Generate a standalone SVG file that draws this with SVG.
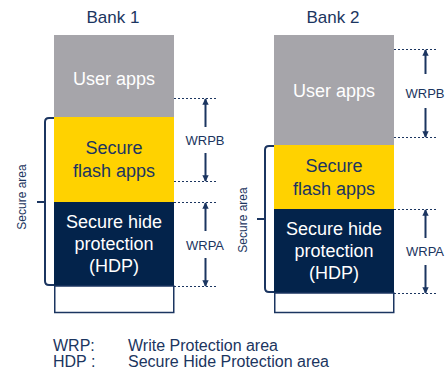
<svg xmlns="http://www.w3.org/2000/svg" width="447" height="372" viewBox="0 0 447 372">
  <defs>
    <marker id="head" viewBox="0 0 10 10" refX="9" refY="5" markerWidth="3.2" markerHeight="3.2" orient="auto-start-reverse" markerUnits="strokeWidth">
      <path d="M0,0 L10,5 L0,10 z" fill="#1b3560"/>
    </marker>
    <style>
      text { font-family: "Liberation Sans", Arial, sans-serif; }
      .title { font-size: 17px; fill: #1b3560; text-anchor: middle; }
      .blk { font-size: 18px; text-anchor: middle; }
      .light { fill: #ffffff; }
      .dark { fill: #1b3560; }
      .user { fill: #a6a5aa; }
      .flash { fill: #ffd200; }
      .hdp { fill: #03234b; }
      .free { fill: #ffffff; stroke: #1b3560; stroke-width: 1.5; }
      .dash { stroke: #1b3560; stroke-width: 1; stroke-dasharray: 2 2; fill: none; }
      .arrow { stroke: #1b3560; stroke-width: 2; fill: none; marker-end: url(#head); }
      .lbl { font-size: 13px; fill: #1b3560; text-anchor: middle; }
      .brace { stroke: #1b3560; stroke-width: 2; fill: none; }
      .side { font-size: 12px; fill: #1b3560; text-anchor: middle; }
      .legend { font-size: 16px; fill: #1b3560; }
    </style>
  </defs>

  <!-- Bank 1 -->
  <g id="bank1">
    <text class="title" x="113" y="23">Bank 1</text>
    <g id="bank1-user">
      <rect class="user" x="54" y="35" width="120" height="82"/>
      <text class="blk light" x="114" y="85">User apps</text>
    </g>
    <g id="bank1-flash">
      <rect class="flash" x="54" y="117" width="120" height="85"/>
      <text class="blk dark" x="114" y="154">Secure</text>
      <text class="blk dark" x="114" y="177">flash apps</text>
    </g>
    <g id="bank1-hdp">
      <rect class="hdp" x="54" y="202" width="120" height="84"/>
      <text class="blk light" x="114" y="228">Secure hide</text>
      <text class="blk light" x="114" y="250">protection</text>
      <text class="blk light" x="114" y="272">(HDP)</text>
    </g>
    <g id="bank1-free">
      <rect class="free" x="54.75" y="286" width="119" height="26.5"/>
    </g>
    <g id="bank1-secure">
      <path class="brace" d="M54,118 h-5 q-4,0 -4,4 v159 q0,4 4,4 h5"/>
      <path class="brace" d="M45,202 h-8" stroke-width="2.5"/>
      <text class="side" transform="translate(26,197) rotate(-90)">Secure area</text>
    </g>
  </g>

  <!-- Bank 2 -->
  <g id="bank2">
    <text class="title" x="333" y="23">Bank 2</text>
    <g id="bank2-user">
      <rect class="user" x="274" y="35" width="120" height="110"/>
      <text class="blk light" x="334" y="97">User apps</text>
    </g>
    <g id="bank2-flash">
      <rect class="flash" x="274" y="145" width="120" height="64"/>
      <text class="blk dark" x="334" y="172">Secure</text>
      <text class="blk dark" x="334" y="195">flash apps</text>
    </g>
    <g id="bank2-hdp">
      <rect class="hdp" x="274" y="209" width="120" height="84"/>
      <text class="blk light" x="334" y="235">Secure hide</text>
      <text class="blk light" x="334" y="257">protection</text>
      <text class="blk light" x="334" y="279">(HDP)</text>
    </g>
    <g id="bank2-free">
      <rect class="free" x="274.75" y="293" width="119" height="19.5"/>
    </g>
    <g id="bank2-secure">
      <path class="brace" d="M274,146 h-5 q-4,0 -4,4 v138 q0,4 4,4 h5"/>
      <path class="brace" d="M265,219 h-8" stroke-width="2.5"/>
      <text class="side" transform="translate(247,220) rotate(-90)">Secure area</text>
    </g>
  </g>

  <!-- Protection range markers -->
  <g id="connectors">
    <path class="dash" d="M174,98.5 H217 M174,181.5 H217 M174,202.5 H217 M174,286.5 H217"/>
    <path class="dash" d="M394,49.5 H437 M394,137.5 H437 M394,209.5 H437 M394,293.5 H437"/>
    <path class="arrow" d="M205.5,127 V99"/>
    <path class="arrow" d="M205.5,153 V181"/>
    <path class="arrow" d="M205.5,231 V203"/>
    <path class="arrow" d="M205.5,258 V286"/>
    <path class="arrow" d="M425.5,74 V50"/>
    <path class="arrow" d="M425.5,108 V137"/>
    <path class="arrow" d="M425.5,238 V210"/>
    <path class="arrow" d="M425.5,265 V293"/>
    <text class="lbl" x="205" y="145">WRPB</text>
    <text class="lbl" x="205" y="250">WRPA</text>
    <text class="lbl" x="425" y="98">WRPB</text>
    <text class="lbl" x="425" y="256">WRPA</text>
  </g>

  <!-- Legend -->
  <g id="legend">
    <text class="legend" x="53" y="351">WRP:</text>
    <text class="legend" x="128" y="351">Write Protection area</text>
    <text class="legend" x="53" y="367">HDP :</text>
    <text class="legend" x="128" y="367">Secure Hide Protection area</text>
  </g>
</svg>
